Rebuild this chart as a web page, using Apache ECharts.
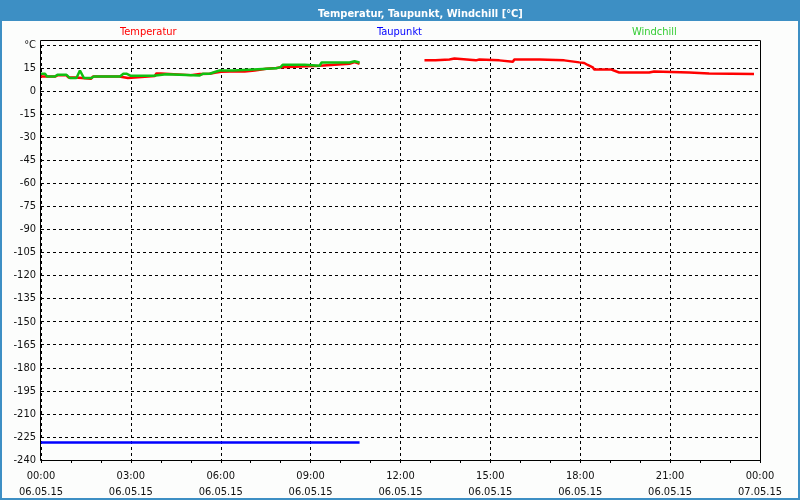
<!DOCTYPE html>
<html>
<head>
<meta charset="utf-8">
<script src="https://cdn.jsdelivr.net/npm/echarts@6/dist/echarts.min.js"></script>
<style>html,body{margin:0;padding:0;background:#fff}#c{width:800px;height:500px}</style>
</head>
<body>
<div id="c"></div>
<script>
// ---- data (minutes since 06.05.15 00:00) ----
const chartTitle = 'Temperatur, Taupunkt, Windchill [°C]';
const seriesNames = ['Temperatur', 'Taupunkt', 'Windchill'];
const xTickLabels = ['00:00\n06.05.15', '03:00\n06.05.15', '06:00\n06.05.15', '09:00\n06.05.15',
  '12:00\n06.05.15', '15:00\n06.05.15', '18:00\n06.05.15', '21:00\n06.05.15', '00:00\n07.05.15'];
const yUnitLabel = '°C';

const tempTimes = [0, 28, 33, 51, 55, 70, 72, 100, 104, 157, 160, 174, 178, 228, 231, 240, 243, 300, 303, 318,
  338, 348, 361, 378, 408, 411, 428, 431, 451, 454, 471, 474, 482, 485, 558, 561, 618, 621, 628, 631, 638,
  700,
  768, 790, 793, 818, 821, 828, 831, 871, 874, 878, 881, 918, 921, 945, 948, 998, 1001, 1048, 1051, 1078,
  1088, 1095, 1105, 1108, 1141, 1145, 1158, 1218, 1221, 1228, 1231, 1298, 1301, 1338, 1341, 1428];
const tempValues = [9.5, 9.5, 10.3, 10.3, 8.9, 8.9, 8.0, 8.0, 9.5, 9.5, 8.5, 8.5, 9.8, 9.8, 11.5, 11.5, 10.4, 10.4, 11.1, 11.1,
  11.3, 12.0, 12.6, 12.8, 12.8, 13.4, 13.4, 14.5, 14.5, 15.0, 15.0, 15.6, 15.6, 16.5, 16.5, 17.8, 17.8, 18.9, 18.9, 17.8, 17.8,
  null,
  20.0, 20.0, 20.6, 20.6, 21.2, 21.2, 20.0, 20.0, 20.6, 20.6, 20.0, 20.0, 19.1, 19.1, 20.6, 20.6, 20.0, 20.0, 18.7, 18.7,
  18.3, 17.0, 15.5, 14.1, 14.1, 13.0, 12.1, 12.1, 12.8, 12.8, 12.1, 12.1, 11.5, 11.5, 11.1, 11.1];

const dewTimes = [0, 638];
const dewValues = [-228.6, -228.6];

const chillTimes = [0, 8, 12, 28, 33, 51, 58, 71, 78, 86, 101, 106, 158, 165, 171, 179, 225, 228, 251, 255, 318, 325,
  338, 348, 358, 385, 388, 425, 428, 471, 474, 480, 484, 528, 531, 558, 562, 618, 621, 628, 631, 638];
const chillValues = [11.3, 11.3, 9.5, 9.5, 10.6, 10.6, 8.5, 8.5, 13.4, 8.5, 8.5, 9.5, 9.5, 11.3, 11.3, 10.0, 10.0, 11.0, 11.0, 10.2, 10.2, 11.3,
  11.3, 12.4, 13.4, 13.4, 14.1, 14.1, 14.8, 14.8, 15.6, 15.6, 17.1, 17.1, 16.5, 16.5, 18.6, 18.6, 19.4, 19.4, 18.6, 18.6];

const pairs = (t, v) => t.map((x, i) => [x, v[i]]);

const FONT = '"DejaVu Sans Condensed", "Liberation Sans", sans-serif';
const frameBlue = '#3d8fc4';

const chart = echarts.init(document.getElementById('c'), null, {renderer: 'canvas'});
chart.setOption({
  animation: false,
  backgroundColor: '#fcfdfc',
  textStyle: {fontFamily: FONT},
  title: {
    text: chartTitle, left: 313, top: 4, z: 300, zlevel: 0,
    textStyle: {color: '#fff', fontSize: 11, fontWeight: 'bold', fontFamily: FONT}
  },
  legend: [
    {data: [{name: seriesNames[0], textStyle: {color: '#ff0000'}}], left: 115, top: 27},
    {data: [{name: seriesNames[1], textStyle: {color: '#0000ff'}}], left: 372, top: 27},
    {data: [{name: seriesNames[2], textStyle: {color: '#33cc33'}}], left: 627, top: 27}
  ].map(l => Object.assign(l, {icon: 'none', itemWidth: 0, itemHeight: 0, padding: 0,
    textStyle: {fontSize: 11, fontFamily: FONT}})),
  grid: {left: 41, right: 40, top: 45, bottom: 40, containLabel: false},
  xAxis: {
    type: 'value', min: 0, max: 1440, interval: 180,
    axisLine: {show: false, onZero: false},
    axisTick: {show: true, length: 3, lineStyle: {color: '#000'}},
    minorTick: {show: true, splitNumber: 3, length: 3, lineStyle: {color: '#000'}},
    splitLine: {show: true, lineStyle: {color: '#000', type: [3, 3], width: 1}},
    axisLabel: {
      margin: 8, color: '#111', fontSize: 11, lineHeight: 16, fontFamily: FONT,
      formatter: v => xTickLabels[Math.round(v / 180)]
    }
  },
  yAxis: {
    type: 'value', min: -240, max: 30, interval: 15,
    axisLine: {show: false, onZero: false}, axisTick: {show: false}, minorTick: {show: false},
    splitLine: {show: true, lineStyle: {color: '#000', type: [3, 3], width: 1}},
    axisLabel: {
      margin: 5, color: '#111', fontSize: 11, fontFamily: FONT,
      formatter: v => v === 30 ? yUnitLabel : String(v)
    }
  },
  series: [
    {name: seriesNames[0], type: 'line', data: pairs(tempTimes, tempValues), showSymbol: false, symbol: 'none',
      connectNulls: false, color: '#ff0000', lineStyle: {color: '#ff0000', width: 2.5}, z: 3},
    {name: seriesNames[1], type: 'line', data: pairs(dewTimes, dewValues), showSymbol: false, symbol: 'none',
      color: '#0000ff', lineStyle: {color: '#0000ff', width: 2.5}, z: 3},
    {name: seriesNames[2], type: 'line', data: pairs(chillTimes, chillValues), showSymbol: false, symbol: 'none',
      color: '#10c010', lineStyle: {color: '#10c010', width: 2.5}, z: 4}
  ],
  graphic: [
    {type: 'rect', z: 100, silent: true, shape: {x: 1, y: 1, width: 798, height: 498},
      style: {fill: 'none', stroke: frameBlue, lineWidth: 2}},
    {type: 'rect', z: -10, silent: true, shape: {x: 0, y: 0, width: 800, height: 21},
      style: {fill: frameBlue}},
    {type: 'rect', z: 100, silent: true, shape: {x: 40.5, y: 40.5, width: 720, height: 420},
      style: {fill: 'none', stroke: '#000', lineWidth: 1}}
  ]
});
</script>
</body>
</html>
